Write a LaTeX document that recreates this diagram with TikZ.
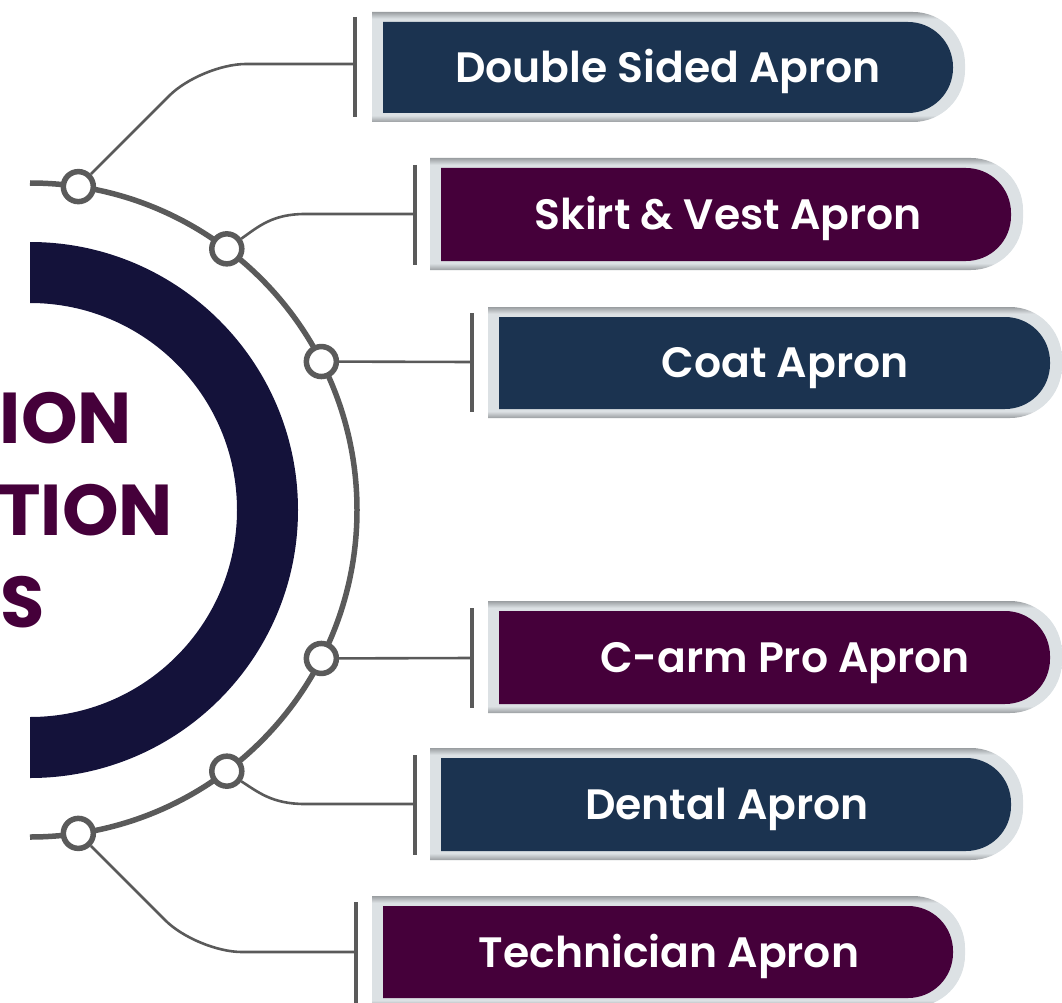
\documentclass[tikz,border=0pt]{standalone}
\usepackage{fontspec}
\usetikzlibrary{calc}
\IfFontExistsTF{Poppins SemiBold}{\newfontfamily\boxfont{Poppins SemiBold}}{%
  \IfFontExistsTF{Poppins Medium}{\newfontfamily\boxfont{Poppins Medium}}{\newfontfamily\boxfont{Poppins}}}
\newfontfamily\headfont{Poppins}
\definecolor{navyc}{HTML}{1B3350}
\definecolor{purpc}{HTML}{45003A}
\definecolor{bandc}{HTML}{14123A}
\definecolor{headc}{HTML}{45003A}
\definecolor{lgray}{HTML}{5A5A5A}
\definecolor{fedge}{HTML}{9A9EA1}
\definecolor{flight}{HTML}{DCE1E4}
\pgfdeclareverticalshading{framesh}{100bp}{color(0bp)=(fedge); color(25bp)=(fedge); color(28bp)=(flight); color(72bp)=(flight); color(75bp)=(fedge); color(100bp)=(fedge)}
% #1 left, #2 top, #3 right, #4 bottom, #5 radius (pixels, y downwards)
\newcommand\apronshape[5]{({#1},{-(#2)}) -- ({(#3)-(#5)},{-(#2)}) arc[start angle=90,end angle=0,radius=#5] -- ({#3},{-(#4)+(#5)}) arc[start angle=0,end angle=-90,radius=#5] -- ({#1},{-(#4)}) -- cycle}
% #1 left, #2 top, #3 right, #4 bottom, #5 colour
\newcommand\apronbox[5]{%
  \path[shading=framesh] \apronshape{#1}{#2}{#3}{#4}{52};
  \fill[#5] \apronshape{#1+11}{#2+10}{#3-12}{#4-9}{45};
}
\begin{document}
\begin{tikzpicture}[x=1pt,y=1pt,
  conn/.style={draw=lgray, line width=2.6pt},
  brk/.style={draw=lgray, line width=3.6pt},
  dotc/.style={circle, draw=lgray, fill=white, line width=5.5pt, minimum size=30pt, inner sep=0pt},
  lbl/.style={text=white, font=\boxfont\fontsize{42.5}{52}\selectfont, anchor=base, inner sep=0pt},
  head/.style={text=headc, font=\headfont\bfseries\fontsize{72}{80}\selectfont, anchor=base east, inner sep=0pt}]
\useasboundingbox (0,0) rectangle (1062,-1003);
\clip (0,0) rectangle (1062,-1003);
\coordinate (c) at (30,-510);
% thick band
\fill[bandc] (30,-242) arc[start angle=90,end angle=-90,radius=268] -- (30,-717) arc[start angle=-90,end angle=90,radius=207] -- cycle;
% big arc
\draw[lgray, line width=5.5pt] (30,-183) arc[start angle=90,end angle=-90,radius=327];
% dots
\foreach \n/\a in {1/81.5,2/53,3/27,4/-27,5/-53,6/-81.5}
  \node[dotc] (d\n) at ($(c)+(\a:327)$) {};
% brackets
\coordinate (k1) at (355,-64);
\coordinate (k2) at (415,-214);
\coordinate (k3) at (472,-362);
\coordinate (k4) at (472,-658);
\coordinate (k5) at (415,-804);
\coordinate (k6) at (356,-952);
\draw[brk] ($(k1)+(0,47)$) -- ($(k1)+(0,-53)$);
\draw[brk] ($(k2)+(0,49)$) -- ($(k2)+(0,-51)$);
\draw[brk] ($(k3)+(0,49)$) -- ($(k3)+(0,-50)$);
\draw[brk] ($(k4)+(0,50)$) -- ($(k4)+(0,-50)$);
\draw[brk] ($(k5)+(0,49)$) -- ($(k5)+(0,-51)$);
\draw[brk] ($(k6)+(0,50)$) -- ($(k6)+(0,-55)$);
% connectors
\draw[conn, rounded corners=45pt] (d1) -- (201,-64) -- (k1);
\draw[conn] (d2.35) .. controls (258,-227) and (272,-214) .. (305,-214) -- (k2);
\draw[conn] (d3) -- (k3);
\draw[conn] (d4) -- (k4);
\draw[conn] (d5.-35) .. controls (258,-792) and (272,-804) .. (305,-804) -- (k5);
\draw[conn, rounded corners=45pt] (d6) -- (197,-952) -- (k6);
% boxes
\apronbox{372}{12}{965}{122}{navyc}
\apronbox{430}{158}{1023}{270}{purpc}
\apronbox{488}{307}{1062}{418}{navyc}
\apronbox{488}{601}{1062}{713}{purpc}
\apronbox{430}{748}{1023}{860}{navyc}
\apronbox{372}{896}{965}{1007}{purpc}
\node[lbl] (t1) at (668,-83) {Double Sided Apron};
\node[lbl] (t2) at (728,-229) {Skirt \& Vest Apron};
\node[lbl] (t3) at (785,-377) {Coat Apron};
\node[lbl] (t4) at (785,-672) {C-arm Pro Apron};
\node[lbl] (t5) at (727,-819) {Dental Apron};
\node[lbl] (t6) at (669,-967) {Technician Apron};
% cut-off title
\node[head] (h1) at (132,-443) {ION};
\node[head] (h2) at (173,-535) {TION};
\node[head, anchor=base west] (h3) at (0.5,-627) {S};
\end{tikzpicture}
\end{document}
